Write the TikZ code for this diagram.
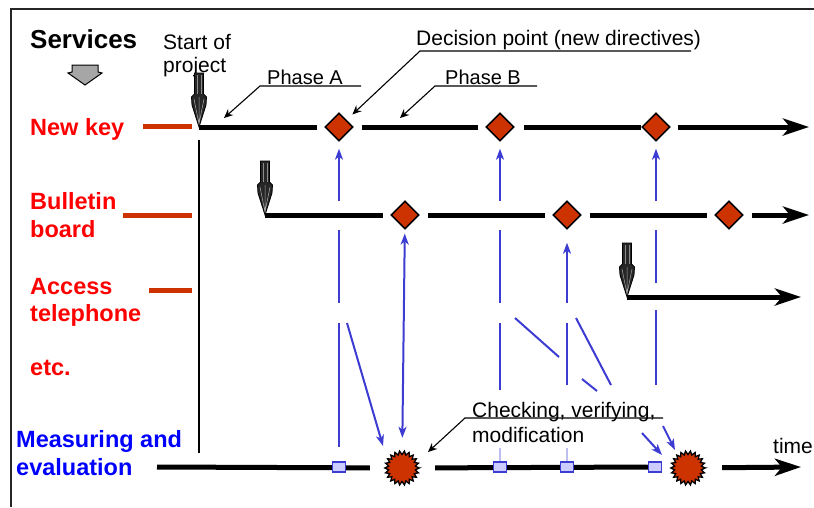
\documentclass[tikz,border=0pt]{standalone}
\usepackage{fontspec}
\setmainfont{Liberation Sans}
\usetikzlibrary{arrows.meta,shapes.geometric}
\definecolor{dred}{RGB}{204,51,0}
\definecolor{bln}{RGB}{60,60,210}
\definecolor{lav}{RGB}{204,204,255}
\definecolor{faint}{RGB}{190,190,240}
\tikzset{
 lbl/.style={font=\bfseries\fontsize{23.5}{23.5}\selectfont, text=red, anchor=base west, inner sep=0pt},
 ann/.style={font=\fontsize{21}{21}\selectfont, anchor=base west, inner sep=0pt},
 phs/.style={font=\fontsize{20}{20}\selectfont, anchor=base west, inner sep=0pt},
 tl/.style={line width=5pt, draw=black},
 tlarrow/.style={tl, -{Stealth[length=26pt,width=17pt,inset=7pt]}},
 dia/.style={diamond, draw=black, fill=dred, line width=1.4pt, minimum width=28pt, minimum height=28pt, inner sep=0pt},
 sqr/.style={rectangle, draw=bln, fill=lav, line width=1.5pt, minimum width=13pt, minimum height=10pt, inner sep=0pt},
 burst/.style={circle, minimum size=34pt, inner sep=0pt},
 bline/.style={draw=bln, line width=2pt},
 barr/.style={bline, -{Stealth[length=11pt,width=8pt,inset=3pt]}},
 bdarr/.style={bline, {Stealth[length=11pt,width=8pt,inset=3pt]}-{Stealth[length=11pt,width=8pt,inset=3pt]}},
 lead/.style={line width=1.1pt, -{Stealth[length=9pt,width=8pt,inset=3pt]}},
 redbar/.style={draw=dred, line width=5pt},
 blockarr/.pic={
  \draw[black, line width=0.8pt, fill=black!85] (-4.5,-54) -- (4.5,-54) -- (4.5,-33) -- (7.5,-30) -- (7,-22) -- (0,0) -- (-7,-22) -- (-7.5,-30) -- (-4.5,-33) -- cycle;
  \draw[black!45, line width=0.5pt] (-2,-52) -- (-2,-33) (2,-52) -- (2,-33);
  \draw[black!35, line width=0.5pt] (-5,-28) -- (0,-3) -- (5,-28) (0,-30) -- (0,-6);
 }
}
\begin{document}
\begin{tikzpicture}[x=1pt,y=-1pt]
\useasboundingbox (0,0) rectangle (814,507);
% frame
\draw[line width=1.5pt, black!85] (11,507) -- (11,9) -- (814,9);
% labels
\node[font=\bfseries\fontsize{26}{26}\selectfont, anchor=base west, inner sep=0pt] (services) at (30,48) {Services};
\draw[line width=1pt, fill=black!35] (72,65) -- (98,65) -- (98,72) -- (102,73) -- (85,85) -- (68,73) -- (72,72) -- cycle;
\node[lbl] (nk) at (30,135) {New key};
\node[lbl] (bb1) at (30,209) {Bulletin};
\node[lbl] (bb2) at (30,237) {board};
\node[lbl] (at1) at (30,294) {Access};
\node[lbl] (at2) at (30,321) {telephone};
\node[lbl] (etc) at (30,375) {etc.};
\node[lbl, text=blue] (me1) at (16,447) {Measuring and};
\node[lbl, text=blue] (me2) at (16,475) {evaluation};
% red bars
\coordinate (r1a) at (143,126); \coordinate (r1b) at (192,126);
\coordinate (r2a) at (123,215); \coordinate (r2b) at (192,215);
\coordinate (r3a) at (149,290); \coordinate (r3b) at (192,290);
\draw[redbar] (r1a) -- (r1b);
\draw[redbar] (r2a) -- (r2b);
\draw[redbar] (r3a) -- (r3b);
% vertical line
\coordinate (v1) at (199,140); \coordinate (v2) at (199,453);
\draw[line width=1.6pt] (v1) -- (v2);
% annotations
\node[ann] (st1) at (163,49) {Start of};
\node[ann] (st2) at (163,72) {project};
\node[ann] (dec) at (416,45) {Decision point (new directives)};
\node[phs] (pa) at (267,84) {Phase A};
\node[phs] (pb) at (445,84) {Phase B};
\node[ann] (chk1) at (472,417) {Checking, verifying,};
\node[ann] (chk2) at (472,442) {modification};
\node[ann] (time) at (773,453) {time};
% timeline nodes
\coordinate (s1) at (199,127); \coordinate (e1) at (809,127);
\coordinate (s2) at (265,215); \coordinate (e2) at (809,215);
\coordinate (s3) at (627,297); \coordinate (e3) at (801,297);
\coordinate (m0) at (157,467); \coordinate (e4) at (801,467);
\node[dia] (d11) at (339,127) {};
\node[dia] (d12) at (500,127) {};
\node[dia] (d13) at (656,127) {};
\node[dia] (d21) at (405,215) {};
\node[dia] (d22) at (567,215) {};
\node[dia] (d23) at (729,215) {};
\node[burst] (sb1) at (402,468) {};
\node[burst] (sb2) at (688,468) {};
% timelines
\draw[tl, shorten >=7pt] (s1) -- (d11);
\draw[tl, shorten <=8pt, shorten >=7pt] (d11) -- (d12);
\draw[tl, shorten <=9pt] (d12) -- (d13);
\draw[tlarrow, shorten <=7pt] (d13) -- (e1);
\draw[tl, shorten >=7pt] (s2) -- (d21);
\draw[tl, shorten <=8pt, shorten >=7pt] (d21) -- (d22);
\draw[tl, shorten <=8pt, shorten >=7pt] (d22) -- (d23);
\draw[tlarrow, shorten <=8pt] (d23) -- (e2);
\draw[tlarrow] (s3) -- (e3);
\draw[tl, shorten >=15pt] (m0) -- (sb1);
\node[sqr] (q4) at (655,467) {};
\draw[tl, shorten <=16pt] (sb1) -- (q4);
\draw[tlarrow, shorten <=17pt] (sb2) -- (e4);
\node[sqr] (q1) at (339,467) {};
\node[sqr] (q2) at (500,467) {};
\node[sqr] (q3) at (567,467) {};
\node[sqr] at (q4) {};
% redraw diamonds on top
\foreach \n in {d11,d12,d13,d21,d22,d23} { \node[dia] at (\n) {}; }
% starbursts
\foreach \n in {sb1,sb2} {
 \draw[fill=dred, line width=1.3pt, shift={(\n.center)}] plot[domain=0:360, samples=45] (\x:{15.3+1.8*cos(22*\x)}) -- cycle;
}
% block arrows
\pic at (s1) {blockarr};
\pic at (s2) {blockarr};
\pic at (s3) {blockarr};
% leaders
\coordinate (pau1) at (361,86); \coordinate (pau2) at (260,86); \coordinate (pat) at (224,118);
\draw[lead] (pau1) -- (pau2) -- (pat);
\coordinate (pbu1) at (537,86); \coordinate (pbu2) at (435,86); \coordinate (pbt) at (400,118);
\draw[lead] (pbu1) -- (pbu2) -- (pbt);
\coordinate (dcu1) at (691,51); \coordinate (dcu2) at (420,51);
\draw[lead, shorten >=8pt] (dcu1) -- (dcu2) -- (d11);
\coordinate (cku1) at (663,418); \coordinate (cku2) at (465,418); \coordinate (ckt) at (428,452);
\draw[lead] (cku1) -- (cku2) -- (ckt);
% blue lines x=339
\coordinate (a1) at (339,447); \coordinate (a2) at (339,323);
\coordinate (a3) at (339,303); \coordinate (a4) at (339,230);
\coordinate (a5) at (339,201);
\draw[bline] (a1) -- (a2);
\draw[bline] (a3) -- (a4);
\draw[barr, shorten >=7pt] (a5) -- (d11);
\coordinate (g1) at (347,323); \coordinate (g2) at (383,446);
\draw[barr] (g1) -- (g2);
% x=405
\draw[bdarr, shorten <=4pt, shorten >=13pt] (d21) -- (sb1);
% x=500
\coordinate (b1) at (500,390); \coordinate (b2) at (500,323);
\coordinate (b3) at (500,303); \coordinate (b4) at (500,230);
\coordinate (b5) at (500,201);
\draw[bline] (b1) -- (b2);
\draw[bline] (b3) -- (b4);
\draw[barr, shorten >=7pt] (b5) -- (d12);
\coordinate (b6) at (500,448);
\draw[draw=faint, line width=2pt] (b6) -- (q2);
% x=567
\coordinate (c1) at (567,385); \coordinate (c2) at (567,323);
\coordinate (c3) at (567,303);
\draw[bline] (c1) -- (c2);
\draw[barr, shorten >=13pt] (c3) -- (d22);
\coordinate (c6) at (567,448);
\draw[draw=faint, line width=2pt] (c6) -- (q3);
% x=656
\coordinate (f1) at (656,385); \coordinate (f2) at (656,310);
\coordinate (f3) at (656,283); \coordinate (f4) at (656,230);
\coordinate (f5) at (656,201);
\draw[bline] (f1) -- (f2);
\draw[bline] (f3) -- (f4);
\draw[barr, shorten >=7pt] (f5) -- (d13);
% diagonals
\coordinate (h1) at (515,318); \coordinate (h2) at (559,357);
\coordinate (h3) at (576,318); \coordinate (h4) at (611,385);
\coordinate (h5) at (582,379); \coordinate (h6) at (597,391);
\draw[bline] (h1) -- (h2);
\draw[bline] (h3) -- (h4);
\draw[bline] (h5) -- (h6);
\coordinate (k1) at (642,433); \coordinate (k2) at (662,455);
\coordinate (k3) at (663,426); \coordinate (k4) at (675,450);
\draw[barr] (k1) -- (k2);
\draw[barr] (k3) -- (k4);
\end{tikzpicture}
\end{document}
